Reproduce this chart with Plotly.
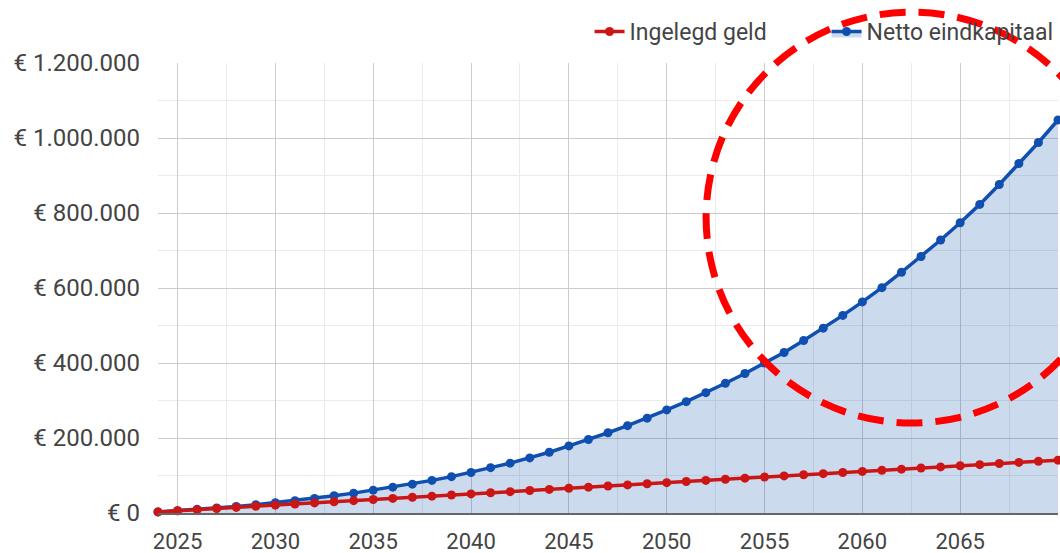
import plotly.graph_objects as go

years = list(range(2024, 2071))

ingelegd_geld = [
    3000, 6000, 9000, 12000, 15000, 18000, 21000, 24000, 27000, 30000,
    33000, 36000, 39000, 42000, 45000, 48000, 51000, 54000, 57000, 60000,
    63000, 66000, 69000, 72000, 75000, 78000, 81000, 84000, 87000, 90000,
    93000, 96000, 99000, 102000, 105000, 108000, 111000, 114000, 117000, 120000,
    123000, 126000, 129000, 132000, 135000, 138000, 141000,
]

netto_eindkapitaal = [
    3000, 6300, 9800, 13500, 17500, 22000, 27500, 33000, 39000, 46000,
    53000, 61000, 69000, 77000, 87000, 97000, 108000, 121000, 133000, 147000,
    162000, 179000, 196000, 214000, 233000, 253000, 275000, 297000, 321000, 346000,
    372000, 400000, 428000, 460000, 493000, 527000, 563000, 601000, 642000, 684000,
    728000, 774000, 823000, 876000, 932000, 988000, 1048000,
]

y_tickvals = [0, 200000, 400000, 600000, 800000, 1000000, 1200000]
y_ticktext = ["€ 0", "€ 200.000", "€ 400.000", "€ 600.000", "€ 800.000",
              "€ 1.000.000", "€ 1.200.000"]
x_tickvals = [2025, 2030, 2035, 2040, 2045, 2050, 2055, 2060, 2065]
x_ticktext = ["2025", "2030", "2035", "2040", "2045", "2050", "2055", "2060", "2065"]

RED = "#cc1616"
BLUE = "#0e4fb0"
FILL = "rgba(14,79,176,0.21)"
TEXT = "#444444"
FONT = "Roboto"

fig = go.Figure()

fig.add_trace(go.Scatter(
    x=years, y=netto_eindkapitaal, name="Netto eindkapitaal",
    mode="lines+markers",
    fill="tozeroy", fillcolor=FILL,
    line=dict(color=BLUE, width=3.5),
    marker=dict(color=BLUE, size=9),
    cliponaxis=False, legendrank=2,
))

fig.add_trace(go.Scatter(
    x=years, y=ingelegd_geld, name="Ingelegd geld",
    mode="lines+markers",
    line=dict(color=RED, width=3.5),
    marker=dict(color=RED, size=9),
    cliponaxis=False, legendrank=1,
))

# highlight circle (annotation overlay)
fig.add_shape(
    type="circle", xref="paper", yref="paper",
    x0=0.609, x1=1.066, y0=0.20, y1=1.113,
    line=dict(color="#ff0000", width=7, dash="26px,13px"),
    layer="above",
)

fig.update_layout(
    width=1060, height=553,
    margin=dict(l=158, r=2, t=63, b=40, autoexpand=False),
    paper_bgcolor="white", plot_bgcolor="white",
    font=dict(family=FONT, size=22, color=TEXT),
    showlegend=True,
    legend=dict(
        orientation="h", x=0.4795, y=1.07, xanchor="left", yanchor="middle",
        font=dict(family=FONT, size=23, color=TEXT),
        bgcolor="rgba(0,0,0,0)",
        entrywidth=192, entrywidthmode="pixels",
    ),
    xaxis=dict(
        range=[2024, 2070],
        tickvals=x_tickvals, ticktext=x_ticktext,
        showgrid=True, gridcolor="#cccccc", gridwidth=1,
        minor=dict(dtick=2.5, tick0=2022.5, showgrid=True, gridcolor="#ebebeb", gridwidth=1),
        showline=True, linecolor="#666666", linewidth=2,
        zeroline=False,
        ticks="", ticklabelstandoff=8,
        tickfont=dict(family=FONT, size=22, color=TEXT),
    ),
    yaxis=dict(
        range=[0, 1200000],
        tickvals=y_tickvals, ticktext=y_ticktext,
        showgrid=True, gridcolor="#cccccc", gridwidth=1,
        minor=dict(dtick=100000, tick0=0, showgrid=True, gridcolor="#ebebeb", gridwidth=1),
        zeroline=False, showline=False,
        ticks="", ticklabelstandoff=17,
        tickfont=dict(family=FONT, size=24, color=TEXT),
    ),
)

fig.write_html(
    "out.html",
    config={"displayModeBar": False},
    post_script="document.body.style.margin='0';document.body.style.overflow='hidden';",
)
